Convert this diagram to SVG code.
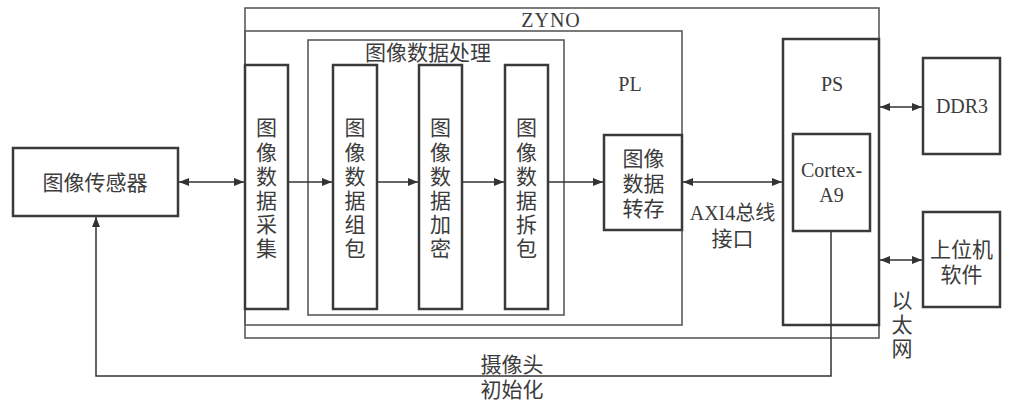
<svg xmlns="http://www.w3.org/2000/svg" width="1011" height="405" viewBox="0 0 1011 405">
<defs>
<marker id="ah" viewBox="0 0 10 8" refX="10" refY="4" markerWidth="10" markerHeight="8" markerUnits="userSpaceOnUse" orient="auto-start-reverse">
<path d="M0,0 L10,4 L0,8 z" fill="#333"/>
</marker>
</defs>
<style>
.box{fill:none;stroke:#3a3a3a;stroke-width:2.5}
.cont{fill:none;stroke:#5a5a5a;stroke-width:1.6}
.cn{font-family:"Noto Sans CJK SC","Noto Sans",sans-serif;font-size:21px;fill:#3c3c3c;text-anchor:middle}
.vt{writing-mode:vertical-rl;letter-spacing:3.2px}
.en{font-family:"Liberation Serif","Noto Sans CJK SC",serif;font-size:20px;fill:#3c3c3c;text-anchor:middle}
.ln{fill:none;stroke:#333;stroke-width:1.5}
</style>
<rect width="1011" height="405" fill="#fff"/>
<g id="zyno">
<rect class="cont" x="245" y="8" width="634" height="330"/>
<text class="en" x="551" y="27" letter-spacing="1">ZYNO</text>
</g>
<g id="pl">
<rect class="cont" x="245" y="31" width="437" height="294"/>
<text class="en" x="630" y="91" font-size="21">PL</text>
</g>
<g id="proc">
<rect class="cont" x="308" y="40" width="256" height="275"/>
<text class="cn" x="428" y="60" font-size="22">图像数据处理</text>
</g>
<g id="collect">
<rect class="box" x="245" y="65" width="43" height="244"/>
<text class="cn vt" x="266.5" y="189.6">图像数据采集</text>
</g>
<g id="pack">
<rect class="box" x="333" y="65" width="44" height="244"/>
<text class="cn vt" x="355" y="189.6">图像数据组包</text>
</g>
<g id="encrypt">
<rect class="box" x="419" y="65" width="43" height="244"/>
<text class="cn vt" x="440.5" y="189.6">图像数据加密</text>
</g>
<g id="unpack">
<rect class="box" x="505" y="65" width="43" height="244"/>
<text class="cn vt" x="526.5" y="189.6">图像数据拆包</text>
</g>
<g id="store">
<rect class="box" x="604" y="135" width="78" height="95"/>
<text class="cn"><tspan x="643.5" y="165.5">图像</tspan><tspan x="643.5" y="190.5">数据</tspan><tspan x="643.5" y="215.5">转存</tspan></text>
</g>
<g id="sensor">
<rect class="box" x="13" y="148" width="165" height="68"/>
<text class="cn" x="95" y="190" font-size="22">图像传感器</text>
</g>
<g id="ps">
<rect class="box" x="783" y="39" width="96" height="286"/>
<text class="en" x="832" y="91" font-size="21">PS</text>
</g>
<g id="cortex">
<rect class="box" x="793" y="134" width="77" height="97"/>
<text class="en" x="831.5" y="177">Cortex-</text>
<text class="en" x="831.5" y="202">A9</text>
</g>
<g id="ddr3">
<rect class="box" x="923" y="58" width="77" height="96"/>
<text class="en" x="962" y="113">DDR3</text>
</g>
<g id="host">
<rect class="box" x="923" y="212" width="77" height="95"/>
<text class="cn"><tspan x="961.5" y="256.5">上位机</tspan><tspan x="961.5" y="281.5">软件</tspan></text>
</g>
<g id="connectors">
<line class="ln" x1="179" y1="182" x2="244" y2="182" marker-start="url(#ah)" marker-end="url(#ah)"/>
<line class="ln" x1="289" y1="182" x2="332" y2="182" marker-end="url(#ah)"/>
<line class="ln" x1="378" y1="182" x2="418" y2="182" marker-end="url(#ah)"/>
<line class="ln" x1="463" y1="182" x2="504" y2="182" marker-end="url(#ah)"/>
<line class="ln" x1="549" y1="182" x2="603" y2="182" marker-end="url(#ah)"/>
<line class="ln" x1="683" y1="182" x2="782" y2="182" marker-start="url(#ah)" marker-end="url(#ah)"/>
<line class="ln" x1="880" y1="107" x2="922" y2="107" marker-start="url(#ah)" marker-end="url(#ah)"/>
<line class="ln" x1="880" y1="260" x2="922" y2="260" marker-start="url(#ah)" marker-end="url(#ah)"/>
<polyline class="ln" points="831,232 831,376 96,376 96,217" marker-end="url(#ah)"/>
</g>
<g id="labels">
<text class="en" x="732.5" y="220">AXI4总线</text>
<text class="cn" x="732.5" y="245.5">接口</text>
<text class="cn vt" x="902" y="325.5" letter-spacing="4">以太网</text>
<text class="cn"><tspan x="512" y="372">摄像头</tspan><tspan x="512" y="397">初始化</tspan></text>
</g>
</svg>
